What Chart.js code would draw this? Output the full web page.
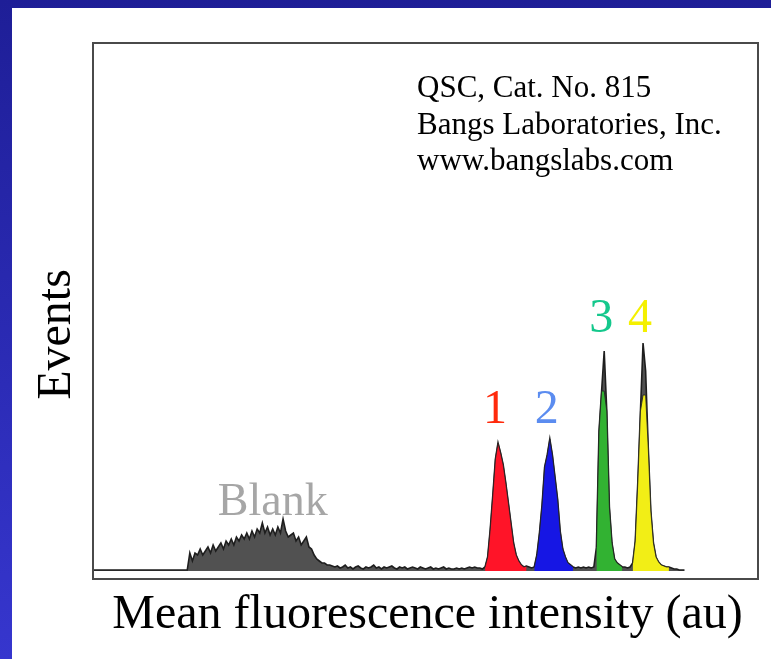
<!DOCTYPE html>
<html>
<head>
<meta charset="utf-8">
<title>QSC bead histogram</title>
<script src="https://cdn.jsdelivr.net/npm/chart.js@4.4.1/dist/chart.umd.min.js"></script>
<style>
  html, body { margin: 0; padding: 0; }
  body {
    width: 771px;
    height: 659px;
    overflow: hidden;
    position: relative;
    background: linear-gradient(to bottom, #1e1e97, #3636ce);
  }
  #sheet { position: absolute; left: 12px; top: 8px; right: 0; bottom: 0; background: #fff; }
  #histo { position: absolute; left: 0; top: 0; }
</style>
</head>
<body>
<div id="sheet"></div>
<canvas id="histo" width="771" height="659"></canvas>
<script>
// Flow cytometry histogram of the QSC bead set, 256-channel scale

// events per channel, channels 0..228
const events = [
    0.5, 0.5, 0.5, 0.5, 0.5, 0.5, 0.5, 0.5, 0.5, 0.5,
    0.5, 0.5, 0.5, 0.5, 0.5, 0.5, 0.5, 0.5, 0.5, 0.5,
    0.5, 0.5, 0.5, 0.5, 0.5, 0.5, 0.5, 0.5, 0.5, 0.5,
    0.5, 0.5, 0.5, 0.5, 0.5, 0.5, 0.5,
    // blank beads
    9, 5, 9, 8, 11, 8, 10, 12, 9, 13,
    10, 12, 14, 11, 15, 13, 16, 13, 17, 15,
    18, 16, 19, 16, 20, 17, 21, 19, 24, 19,
    22, 18, 21, 18, 22, 19, 26, 20, 17, 18,
    19, 15, 17, 13, 15, 17, 12, 11, 8, 6,
    5, 4, 4, 3, 3, 2.5,
    // background between blank and bead 1
    2, 2.5, 1.5, 2, 3, 1.5, 2, 1, 2, 2.5,
    1.5, 1, 2, 1.5, 2, 3, 1.5, 2, 1, 2,
    1.5, 2, 2.5, 1.5, 1, 2, 1.5, 2, 1, 1.5,
    2, 1.5, 1, 2, 1.5, 1, 1.5, 2, 1, 1.5,
    1, 1.5, 2, 1, 1.5, 1, 1, 1.5, 1, 1.5,
    1, 1.5, 2, 1.5, 2, 1.5, 1.5,
    // bead 1
    1, 2, 7, 21, 38, 56, 64, 59, 53, 44,
    34, 24, 14, 8, 5, 3, 2, 2.5, 2, 1.5,
    // bead 2
    2, 8, 19, 33, 52, 58, 66, 58, 47, 36,
    20, 11, 7, 4, 3, 2, 1.5, 2, 1.5, 2,
    1.5, 2, 1.5, 2,
    // bead 3
    12, 70, 90, 110, 80, 32, 14, 6, 4, 3,
    2, 2, 1.5, 2,
    // bead 4
    4, 15, 45, 80, 114, 100, 62, 30, 14, 7,
    4.5, 3, 2.5, 2, 2, 1.5, 1, 1, 0.5, 0.5,
    0.5
];

const beadNames = ['1', '2', '3', '4'];
const beadFirstChannel = [151, 170, 194, 208];
const beadLastChannel = [167, 185, 204, 222];
// colour stops short of the narrow tops of beads 3 and 4
const beadFillCap = [null, null, 90, 88];
const beadFillColors = ['#ff1428', '#1616e4', '#32b232', '#f2ee16'];
const beadTextColors = ['#ff2a0c', '#5b8cf0', '#14c88c', '#f4f000'];
// number labels sit at a common height per pair
const beadLabelLevel = [74, 74, 119.5, 119.5];

const blankLabel = 'Blank';
const blankLabelChannel = 69;
const blankLabelLevel = 28;

const noteLines = ['QSC, Cat. No. 815', 'Bangs Laboratories, Inc.', 'www.bangslabs.com'];
const xTitle = 'Mean fluorescence intensity (au)';
const yTitle = 'Events';

const SERIF = '"Liberation Serif", "Times New Roman", serif';

function channelPoints(values, first, last, cap) {
    const pts = [];
    for (let ch = first; ch <= last; ch++) {
        const v = values[ch];
        pts.push({ x: ch, y: cap == null ? v : Math.min(v, cap) });
    }
    return pts;
}

function peakChannel(first, last) {
    let best = first;
    for (let ch = first; ch <= last; ch++) {
        if (events[ch] > events[best]) best = ch;
    }
    return best;
}

const datasets = [{
    label: 'All events',
    data: channelPoints(events, 0, events.length - 1, null),
    borderColor: '#1e1e1e',
    borderWidth: 1.6,
    backgroundColor: 'rgba(38, 38, 38, 0.8)',
    fill: 'origin',
    pointRadius: 0,
    tension: 0,
    order: 2
}];

beadNames.forEach((name, i) => {
    datasets.push({
        label: 'Bead ' + name,
        data: channelPoints(events, beadFirstChannel[i], beadLastChannel[i], beadFillCap[i]),
        borderColor: 'rgba(35, 35, 35, 0.85)',
        borderWidth: 1,
        backgroundColor: beadFillColors[i],
        fill: 'origin',
        pointRadius: 0,
        tension: 0,
        order: 1
    });
});

// frame, labels and axis titles
const histoDecor = {
    id: 'histoDecor',
    afterDraw(chart) {
        const { ctx, chartArea: a, scales } = chart;
        const xs = scales.x, ys = scales.y;
        ctx.save();

        ctx.strokeStyle = '#4a4a4a';
        ctx.lineWidth = 2;
        ctx.strokeRect(a.left - 1, a.top, a.right - a.left + 2, a.bottom - a.top + 1);

        ctx.textBaseline = 'alphabetic';

        // catalogue note
        ctx.fillStyle = '#000';
        ctx.textAlign = 'left';
        ctx.font = '31px ' + SERIF;
        noteLines.forEach((line, i) => {
            ctx.fillText(line, a.left + 323, a.top + 54 + i * 36.5);
        });

        // bead numbers
        ctx.textAlign = 'center';
        ctx.font = '48px ' + SERIF;
        beadNames.forEach((name, i) => {
            const pk = peakChannel(beadFirstChannel[i], beadLastChannel[i]);
            ctx.fillStyle = beadTextColors[i];
            ctx.fillText(name, xs.getPixelForValue(pk) - 3, ys.getPixelForValue(beadLabelLevel[i]));
        });

        ctx.fillStyle = '#a6a6a6';
        ctx.font = '46px ' + SERIF;
        ctx.fillText(blankLabel, xs.getPixelForValue(blankLabelChannel), ys.getPixelForValue(blankLabelLevel));

        // axis titles
        ctx.fillStyle = '#000';
        ctx.font = '48px ' + SERIF;
        ctx.fillText(xTitle, (a.left + a.right) / 2 + 2, a.bottom + 50);

        ctx.translate(a.left - 24, (a.top + a.bottom) / 2 + 24);
        ctx.rotate(-Math.PI / 2);
        ctx.fillText(yTitle, 0, 0);

        ctx.restore();
    }
};

new Chart(document.getElementById('histo').getContext('2d'), {
    type: 'line',
    data: { datasets: datasets },
    options: {
        responsive: false,
        animation: false,
        devicePixelRatio: 1,
        layout: { padding: { left: 94, top: 43, right: 14, bottom: 81 } },
        scales: {
            x: { type: 'linear', min: 0, max: 256, display: false },
            y: { type: 'linear', min: -3.5, max: 264, display: false }
        },
        plugins: {
            legend: { display: false },
            tooltip: { enabled: false }
        }
    },
    plugins: [histoDecor]
});
</script>
</body>
</html>
